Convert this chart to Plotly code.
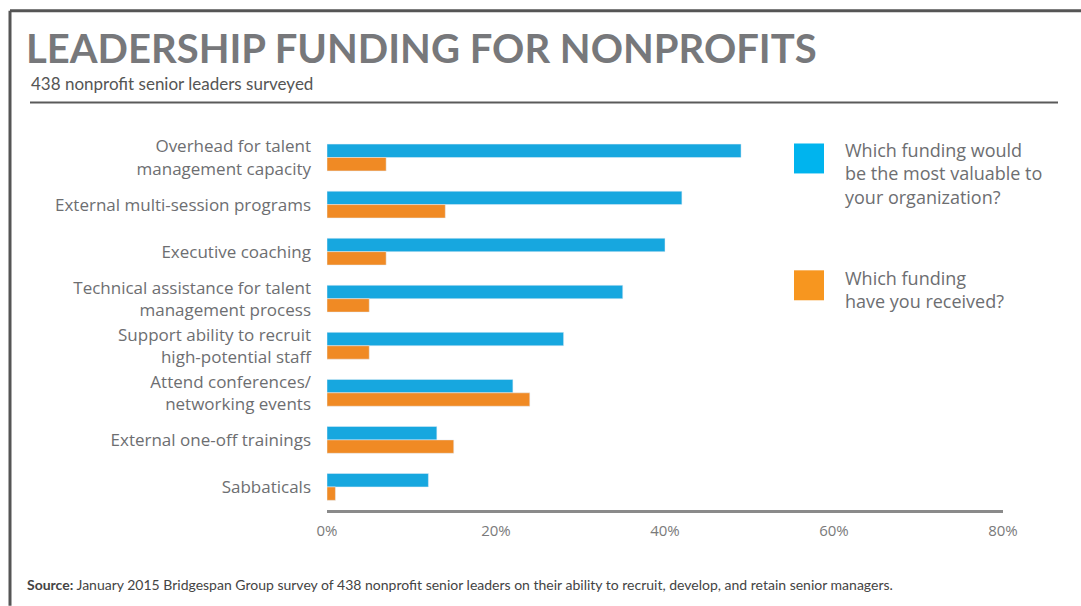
import plotly.graph_objects as go

categories = [
    "Overhead for talent<br>management capacity",
    "External multi-session programs",
    "Executive coaching",
    "Technical assistance for talent<br>management process",
    "Support ability to recruit<br>high-potential staff",
    "Attend conferences/<br>networking events",
    "External one-off trainings",
    "Sabbaticals",
]
most_valuable = [49, 42, 40, 35, 28, 22, 13, 12]
received = [7, 14, 7, 5, 5, 24, 15, 1]
x_ticks = [0, 20, 40, 60, 80]
x_tick_labels = ["0%", "20%", "40%", "60%", "80%"]
legend_1 = "Which funding would<br>be the most valuable to<br>your organization?"
legend_2 = "Which funding<br>have you received?"

W, H = 1081, 606
L, R, T, B = 327, 78, 133.5, 96
PW, PH = W - L - R, H - T - B


def px(x):
    return (x - L) / PW


def py(y):
    return (H - B - y) / PH


BLUE = "#17a7df"
ORANGE = "#f08a24"
LBLUE = "#00b4ee"
LORANGE = "#f7961f"
GRAY_TXT = "#6d6e71"
LABEL_FONT = "Open Sans"

fig = go.Figure()
fig.add_trace(go.Bar(
    y=categories, x=most_valuable, orientation="h", marker_color=BLUE,
    name="Which funding would be the most valuable to your organization?",
))
fig.add_trace(go.Bar(
    y=categories, x=received, orientation="h", marker_color=ORANGE,
    name="Which funding have you received?",
))

fig.update_layout(
    width=W, height=H,
    margin=dict(l=L, r=R, t=T, b=B),
    paper_bgcolor="white", plot_bgcolor="white",
    barmode="group", bargap=0.43, bargroupgap=0,
    showlegend=False,
    font=dict(family=LABEL_FONT, color=GRAY_TXT),
)
fig.update_xaxes(
    range=[0, 80], tickvals=x_ticks, ticktext=x_tick_labels,
    showgrid=False, zeroline=False, showline=True, linecolor="#8a8a8a", linewidth=3,
    tickfont=dict(family=LABEL_FONT, size=15, color="#7a7a7a"), ticklabelstandoff=5,
    fixedrange=True,
)
fig.update_yaxes(
    categoryorder="array", categoryarray=categories,
    range=[7.49, -0.5], showgrid=False, zeroline=False, showline=False,
    ticks="", ticklabelstandoff=15,
    tickfont=dict(family=LABEL_FONT, size=17, color=GRAY_TXT),
    fixedrange=True,
)

shapes = []
# frame
shapes.append(dict(type="line", xref="paper", yref="paper", x0=px(10), x1=px(1081), y0=py(10), y1=py(10),
                   line=dict(color="#555555", width=3)))
shapes.append(dict(type="line", xref="paper", yref="paper", x0=px(10), x1=px(10), y0=py(10), y1=py(606),
                   line=dict(color="#555555", width=3)))
# rule under subtitle
shapes.append(dict(type="line", xref="paper", yref="paper", x0=px(30), x1=px(1058), y0=py(102), y1=py(102),
                   line=dict(color="#5a5a5a", width=2)))
# legend squares
shapes.append(dict(type="rect", xref="paper", yref="paper", x0=px(794), x1=px(824), y0=py(173), y1=py(143),
                   fillcolor=LBLUE, line=dict(width=0)))
shapes.append(dict(type="rect", xref="paper", yref="paper", x0=px(794), x1=px(824), y0=py(300), y1=py(270),
                   fillcolor=LORANGE, line=dict(width=0)))

annotations = [
    dict(text="<b>LEADERSHIP FUNDING FOR NONPROFITS</b>", x=px(24), y=py(47), xref="paper", yref="paper",
         xanchor="left", yanchor="middle", showarrow=False,
         font=dict(family="Lato", size=40, color="#77787b")),
    dict(text="438 nonprofit senior leaders surveyed", x=px(29), y=py(83), xref="paper", yref="paper",
         xanchor="left", yanchor="middle", showarrow=False,
         font=dict(family="Lato", size=17, color="#555555")),
    dict(text="<b>Source:</b> January 2015 Bridgespan Group survey of 438 nonprofit senior leaders on their ability to recruit, develop, and retain senior managers.",
         x=px(25), y=py(585), xref="paper", yref="paper", xanchor="left", yanchor="middle", showarrow=False,
         font=dict(family="Lato", size=14, color="#444444")),
    dict(text=legend_1, x=px(843), y=py(173), xref="paper", yref="paper",
         xanchor="left", yanchor="middle", align="left", showarrow=False,
         font=dict(family=LABEL_FONT, size=18, color=GRAY_TXT)),
    dict(text=legend_2, x=px(843), y=py(289), xref="paper", yref="paper",
         xanchor="left", yanchor="middle", align="left", showarrow=False,
         font=dict(family=LABEL_FONT, size=18, color=GRAY_TXT)),
]

fig.update_layout(shapes=shapes, annotations=annotations)

fig.write_html("out.html", config={"displayModeBar": False},
               post_script="document.body.style.margin='0px';document.body.style.overflow='hidden';")
